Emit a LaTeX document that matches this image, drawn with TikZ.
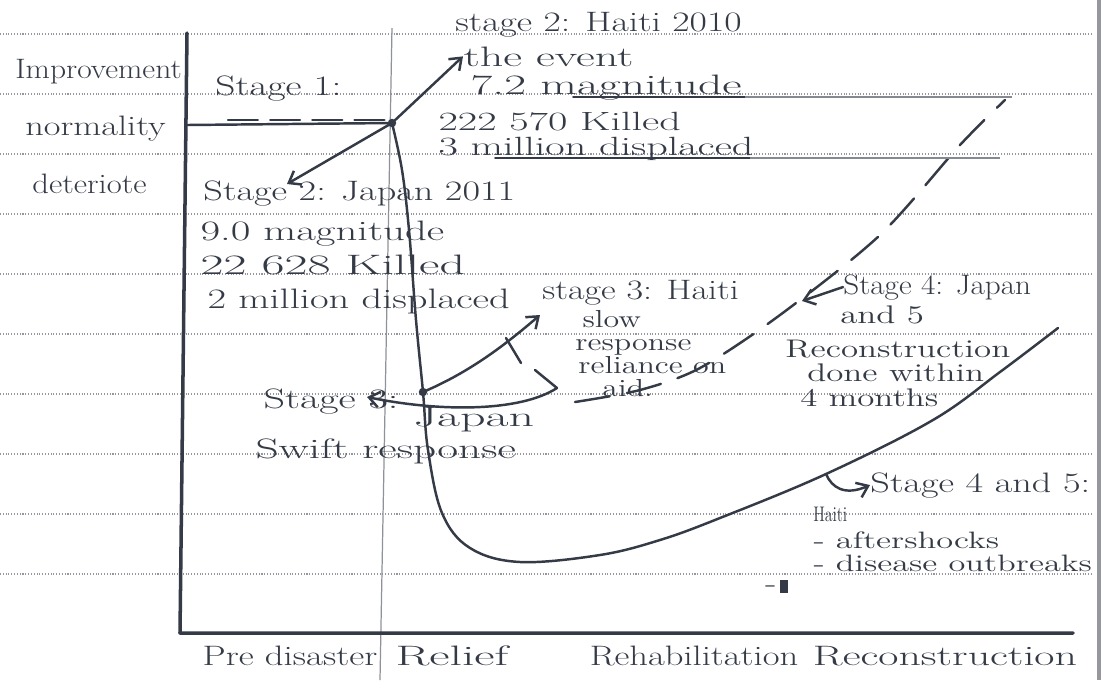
\documentclass[tikz,border=0pt]{standalone}
\usetikzlibrary{arrows.meta}
\definecolor{pen}{RGB}{52,58,70}
\definecolor{ruling}{RGB}{150,150,158}

\begin{document}
\begin{tikzpicture}[x=0.2mm,y=-0.2mm,
  hand/.style={text=pen,font=\fontsize{16}{18}\selectfont,inner sep=0pt,anchor=base west,xscale=#1},
  hand/.default=1.3,
  block/.style={text=pen,inner sep=0pt,anchor=north west,align=left,xscale=#1},
  ink/.style={draw=pen,line width=1.4pt,line cap=round,line join=round},
  tip/.style={-{Straight Barb[length=6pt,width=9pt]}}]
  \useasboundingbox (0,0) rectangle (1102,680);
  \fill[white] (0,0) rectangle (1102,680);
  % ruled paper
  \foreach \y in {34,94,...,574}
    \draw[ruling,densely dotted,line width=0.6pt] (0,\y) -- (1092,\y);
  \draw[ruling,line width=2pt] (1099,0) -- (1099,680);
  \draw[pen!55,line width=0.7pt] (392,28) -- (380,680);
  % axes
  \draw[ink,line width=2pt] (187,33) -- (180,633) -- (1073,633);
  \coordinate (E) at (392,123);
  \coordinate (P3) at (423,392);
  \coordinate (C45) at (826,474);
  \draw[ink] (187,125) -- (E);
  \draw[ink,dash pattern=on 17pt off 7pt] (228,120) -- (388,120);
  \draw[ink] plot[smooth,tension=0.6] coordinates {(392,123) (402,170) (409,230)
    (416,320) (423,392) (428,450) (442,513) (470,548) (520,562) (600,555)
    (660,540) (720,518) (826,474) (933,420) (1000,372) (1058,328)};
  \draw[ink,dash pattern=on 20pt off 10pt] plot[smooth,tension=0.5] coordinates {(575,402)
    (640,390) (700,368) (780,315) (880,235) (960,145) (1005,100)};
  \fill[pen] (E) circle (2.4pt);
  \fill[pen] (P3) circle (2.4pt);
  \draw[ink,line width=1pt] (573,97) -- (745,97);
  \draw[ink,line width=1pt] (495,158) -- (750,158);
  \draw[pen!60,line width=0.9pt] (745,97) -- (1012,97);
  \draw[pen!60,line width=0.9pt] (750,158) -- (1000,158);

  \node[hand=1.12] (imp) at (15,78) {Improvement};
  \node[hand=1.29] (nor) at (25,135) {normality};
  \node[hand=1.16] (det) at (32,193) {deteriote};
  \node[hand=1.40] (st1) at (215,95) {Stage 1:};

  \node[hand=1.34] (hai2) at (455,31) {stage 2: Haiti 2010};
  \node[hand=1.64] (evt) at (463,66) {the event};
  \node[hand=1.69] (hmag) at (470,94) {7.2 magnitude};
  \node[block=1.6,font=\fontsize{15}{14.2pt}\selectfont] (hkil) at (438,111.7)
    {222 570 Killed\\3 million displaced};

  \node[hand=1.36] (jap2) at (203,200) {Stage 2: Japan 2011};
  \node[hand=1.52] (jmag) at (200,240) {9.0 magnitude};
  \node[hand=1.78] (jkil) at (200,274) {22 628 Killed};
  \node[hand=1.44] (jdis) at (207,308) {2 million displaced};
  \coordinate (japtip) at (287,184);

  \node[hand=1.28] (hai3) at (542,299) {stage 3: Haiti};
  \node[block=1.3,font=\fontsize{14}{13.1pt}\selectfont] (slow) at (575,310)
    {\hspace*{3.1pt}slow\\response\\\hspace*{1.3pt}reliance on\\\hspace*{11.8pt}aid.};
  \node[hand=1.50] (jap3) at (263,408) {Stage 3:};
  \node[hand=1.78] (japn) at (413,426) {Japan};
  \node[hand=1.61] (swift) at (255,458) {Swift response};
  \coordinate (h3tip) at (540,315);
  \coordinate (j3tip) at (367,397);

  \node[hand=1.11] (jap4) at (843,294) {Stage 4: Japan};
  \node[block=1.37,font=\fontsize{14.5}{13.9pt}\selectfont] (recon) at (785,305.3)
    {\hspace*{22.8pt}and 5\\[5.4pt]Reconstruction\\\hspace*{9.1pt}done within\\\hspace*{6.2pt}4 months};
  \coordinate (d4) at (802,301);

  \node[hand=1.36] (st45) at (870,492) {Stage 4 and 5:};
  \node[text=pen,font=\fontsize{12}{14}\selectfont,inner sep=0pt,anchor=base west,xscale=0.75] (haiti) at (813,521) {Haiti};
  \node[block=1.45,font=\fontsize{13.5}{13pt}\selectfont] (after) at (813,531.5)
    {- aftershocks\\- disease outbreaks};
  \node[hand] (dsh) at (765,592) {-};
  \fill[pen] (780,580) rectangle (788,593);

  \node[hand=1.31,anchor=base] (pre) at (290,665) {Pre disaster};
  \node[hand=1.77,anchor=base] (rlf) at (452,665) {Relief};
  \node[hand=1.30,anchor=base] (reh) at (694,665) {Rehabilitation};
  \node[hand=1.56,anchor=base] (rec) at (945,665) {Reconstruction};

  \draw[ink,tip] (E) -- (evt.west);
  \draw[ink,tip] (E) -- (japtip);
  \draw[ink,tip] (P3) .. controls (470,372) and (505,345) .. (h3tip);
  \draw[ink] (506,338) -- (521,363);
  \draw[ink,tip] (557,388) .. controls (520,412) and (440,412) .. (j3tip);
  \draw[ink] (535,370) -- (557,388);
  \draw[ink,tip] (jap4.west) -- (d4);
  \draw[ink,tip] (C45) .. controls (832,488) and (845,496) .. (st45.west);
\end{tikzpicture}
\end{document}
